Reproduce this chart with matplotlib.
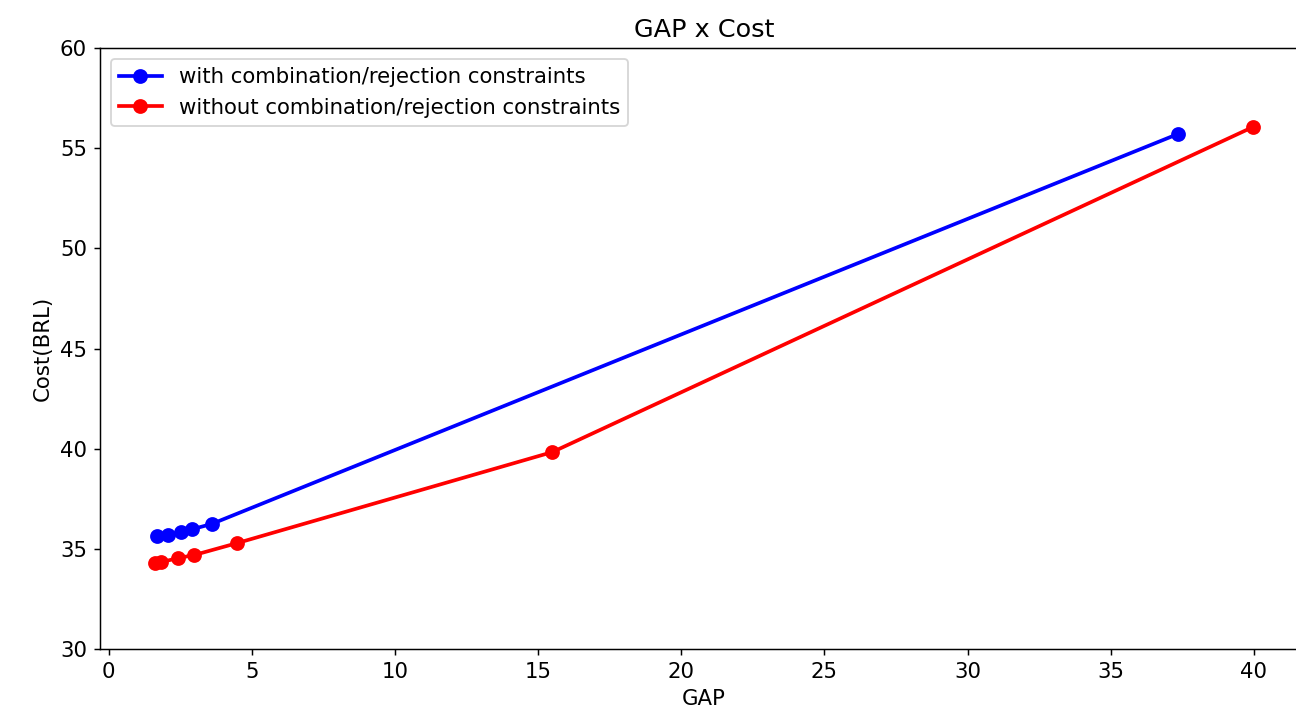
import matplotlib
matplotlib.use('Agg')
from matplotlib import pyplot as plt

# GAP vs cost, with and without the combination/rejection constraints
gap_with = [1.71, 2.06, 2.52, 2.90, 3.60, 37.35]
cost_with = [35.62, 35.70, 35.84, 35.97, 36.24, 55.71]

gap_without = [1.62, 1.84, 2.44, 2.99, 4.50, 15.50, 39.97]
cost_without = [34.29, 34.34, 34.54, 34.69, 35.29, 39.83, 56.06]

DPI = 133
plt.rcParams['font.size'] = 11.5

fig = plt.figure(figsize=(1296 / DPI, 719 / DPI), dpi=DPI)
ax = fig.add_axes([100 / 1296, 1 - 649 / 719, 1208 / 1296, 601 / 719])

ax.plot(gap_with, cost_with, color='blue', marker='o', linewidth=2, markersize=7,
        label='with combination/rejection constraints')
ax.plot(gap_without, cost_without, color='red', marker='o', linewidth=2, markersize=7,
        label='without combination/rejection constraints')

ax.set_ylim(30, 60)
ax.set_title('GAP x Cost')
ax.set_xlabel('GAP')
ax.set_ylabel('Cost(BRL)')
ax.legend(loc='upper left')

fig.savefig('out.png', dpi=DPI)
